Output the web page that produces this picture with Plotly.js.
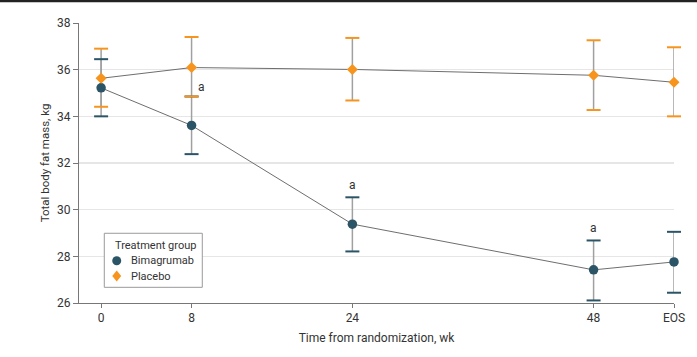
<!DOCTYPE html>
<html>
<head>
<meta charset="utf-8">
<script src="https://cdn.plot.ly/plotly-3.0.1.min.js"></script>
<style>html,body{margin:0;padding:0;background:#fff;}#chart{width:697px;height:357px;}</style>
</head>
<body>
<div id="chart"></div>
<script>
// Time points (plotted week position and tick label)
const timeWeeks = [-1, 8, 24, 48, 56];
const timeLabels = ['0', '8', '24', '48', 'EOS'];

// Bimagrumab: mean and 95% CI bounds (kg)
const bimaMean  = [35.22, 33.61, 29.38, 27.42, 27.76];
const bimaLower = [34.00, 32.38, 28.21, 26.11, 26.44];
const bimaUpper = [36.45, 34.85, 30.53, 28.68, 29.05];

// Placebo: mean and 95% CI bounds (kg)
const placMean  = [35.63, 36.09, 36.01, 35.76, 35.46];
const placLower = [34.41, 34.85, 34.68, 34.27, 34.00];
const placUpper = [36.90, 37.40, 37.36, 37.26, 36.96];

// Significance markers ("a") at selected time points for bimagrumab
const sigIndex = [1, 2, 3];

const groupNames = ['Bimagrumab', 'Placebo'];
const legendTitle = 'Treatment group';
const yTicks = [26, 28, 30, 32, 34, 36, 38];

const teal = '#2b5566';
const orange = '#f7941d';
const stemColor = '#a0a0a0';
const lineColor = '#6e6e6e';
const FONT = 'Roboto, "Open Sans", sans-serif';

function stems(mean, lower, upper) {
  return {
    x: timeWeeks, y: mean, mode: 'markers', type: 'scatter',
    marker: {opacity: 0, size: 1}, showlegend: false, hoverinfo: 'skip', cliponaxis: false,
    error_y: {type: 'data', symmetric: false,
      array: upper.map((u, i) => u - mean[i]),
      arrayminus: mean.map((m, i) => m - lower[i]),
      color: stemColor, thickness: 1.5, width: 0}
  };
}
function caps(vals, color) {
  return {
    x: timeWeeks, y: vals, mode: 'markers', type: 'scatter', showlegend: false, hoverinfo: 'skip', cliponaxis: false,
    marker: {symbol: 'line-ew', size: 10, line: {color: color, width: 2}}
  };
}
function line(mean) {
  return {x: timeWeeks, y: mean, mode: 'lines', type: 'scatter', showlegend: false, hoverinfo: 'skip', cliponaxis: false,
    line: {color: lineColor, width: 1}};
}

const traces = [
  stems(bimaMean, bimaLower, bimaUpper),
  stems(placMean, placLower, placUpper),
  line(bimaMean), line(placMean),
  caps(bimaLower, teal), caps(bimaUpper, teal),
  caps(placLower, orange), caps(placUpper, orange),
  {x: timeWeeks, y: bimaMean, name: groupNames[0], mode: 'markers', type: 'scatter', cliponaxis: false, showlegend: false,
   marker: {symbol: 'circle', size: 9.5, color: teal}},
  {x: timeWeeks, y: placMean, name: groupNames[1], mode: 'markers', type: 'scatter', cliponaxis: false, showlegend: false,
   marker: {symbol: 'diamond', size: 8.5, color: orange}}
];

const annotations = sigIndex.map(i => (i === 1 ?
  {x: timeWeeks[i], y: bimaUpper[i], text: 'a', showarrow: false, xshift: 10, yshift: 10,
   font: {size: 12, color: '#333'}} :
  {x: timeWeeks[i], y: bimaUpper[i], text: 'a', showarrow: false, yshift: 12,
   font: {size: 12, color: '#333'}}));

// Manual legend (box, title, entries)
const lg = {x0: 0.0425, x1: 0.2072, y0: 0.056, y1: 0.249, titleX: 0.0566, titleY: 0.2036,
            mkX: 0.0634, txtX: 0.0845, rowY: [0.151, 0.0964]};
annotations.push({xref: 'paper', yref: 'paper', x: lg.titleX, y: lg.titleY, xanchor: 'left', yanchor: 'middle',
  text: legendTitle, showarrow: false, font: {size: 11, color: '#333'}});
groupNames.forEach((n, k) => annotations.push({xref: 'paper', yref: 'paper', x: lg.txtX, y: lg.rowY[k],
  xanchor: 'left', yanchor: 'middle', text: n, showarrow: false, font: {size: 11, color: '#333'}}));

const shapes = [
  {type: 'line', xref: 'paper', yref: 'paper', x0: -0.14, x1: 1.05, y0: 1.079, y1: 1.079,
   line: {color: '#222', width: 2.5}},
  {type: 'rect', xref: 'paper', yref: 'paper', x0: lg.x0, x1: lg.x1, y0: lg.y0, y1: lg.y1,
   line: {color: '#9a9a9a', width: 1}, fillcolor: '#fff', layer: 'above'},
  {type: 'circle', xref: 'paper', yref: 'paper', xsizemode: 'pixel', ysizemode: 'pixel',
   xanchor: lg.mkX, yanchor: lg.rowY[0], x0: -4.5, x1: 4.5, y0: -4.5, y1: 4.5,
   fillcolor: teal, line: {width: 0}, layer: 'above'},
  {type: 'path', xref: 'paper', yref: 'paper', xsizemode: 'pixel', ysizemode: 'pixel',
   xanchor: lg.mkX, yanchor: lg.rowY[1], path: 'M0,5.5 L4.5,0 L0,-5.5 L-4.5,0 Z',
   fillcolor: orange, line: {width: 0}, layer: 'above'}
];

const layout = {
  width: 697, height: 357,
  margin: {l: 79, r: 23, t: 23, b: 54},
  paper_bgcolor: '#fff', plot_bgcolor: '#fff',
  font: {family: FONT, size: 12, color: '#333'},
  showlegend: false,
  xaxis: {
    range: [-3.2, 56], tickvals: timeWeeks, ticktext: timeLabels,
    showgrid: false, zeroline: false, showline: true, linecolor: '#777', linewidth: 1,
    ticks: 'outside', ticklen: 4, tickcolor: '#777', tickfont: {size: 12, color: '#333'},
    title: {text: 'Time from randomization, wk', font: {size: 12, color: '#333'}, standoff: 9}
  },
  yaxis: {
    range: [26, 38], tickvals: yTicks, showgrid: true, gridcolor: '#e6e6e6', gridwidth: 1.5,
    zeroline: false, showline: true, linecolor: '#777', linewidth: 1,
    ticks: 'outside', ticklen: 5, tickcolor: '#777', tickfont: {size: 12, color: '#333'},
    title: {text: 'Total body fat mass, kg', font: {size: 11.5, color: '#333'}, standoff: 5}
  },
  annotations: annotations,
  shapes: shapes
};

Plotly.newPlot('chart', traces, layout, {staticPlot: true, displayModeBar: false});
</script>
</body>
</html>
